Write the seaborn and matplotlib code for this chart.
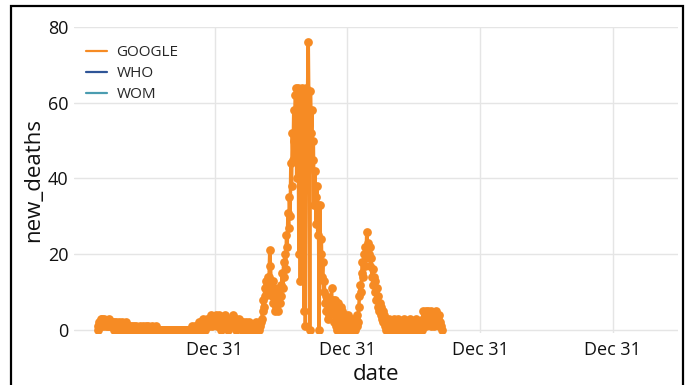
import numpy as np
import pandas as pd
import matplotlib
matplotlib.use("Agg")
import matplotlib.pyplot as plt
import matplotlib.dates as mdates
from matplotlib.lines import Line2D
from matplotlib.patches import Rectangle
import seaborn as sns

# Reported daily deaths, sampled every second day, one list per calendar year
google_2020_start = "2020-02-12"
google_2020 = [0, 1, 2, 1, 3, 2, 3, 2, 1, 3, 2, 1, 2, 2, 1, 3, 1, 2, 1, 2,
               2, 1, 0, 2, 1, 1, 2, 0, 1, 2, 1, 0, 1, 2, 1, 0, 1, 1, 0, 2,
               1, 0, 1, 0, 1, 0,
               0, 1, 0, 0, 1, 0, 0, 1, 0, 0,
               0, 0, 1, 0, 0, 0, 1, 0, 0, 0,
               1, 0, 0, 0, 1, 0, 0, 0, 0, 1,
               0, 0, 0, 0, 0, 1, 0, 0, 0, 0,
               0, 0, 0, 0, 0, 0, 0, 0, 0, 0,
               0, 0, 0, 0, 0, 0, 0, 0, 0, 0,
               0, 0, 0, 0, 0, 0, 0, 0, 0, 0,
               0, 0, 0, 0, 0, 0, 0, 0, 0, 0,
               0, 0, 0, 0, 1, 0, 0, 0, 1, 0,
               0, 1, 0, 1, 2, 1, 0, 2, 1, 3, 1, 2, 0, 2, 3, 1, 2, 3, 1, 2,
               4, 2, 1, 3, 2, 3]

google_2021_start = "2021-01-01"
google_2021 = [2, 4, 1, 3, 2, 4, 1, 3, 0, 2, 3, 1, 2, 4, 2, 1, 3, 2, 0, 2,
               1, 3, 1, 2, 4, 3, 1, 2, 0, 3, 2, 1, 3, 2, 1,
               2, 1, 0, 2, 1, 1, 0, 2, 1, 0, 1, 0, 2, 1, 0, 1, 0, 1,
               0, 1, 0, 2, 1, 0, 1, 0, 2, 1, 2, 3,
               5, 8, 6, 11, 9, 13, 12, 14, 10, 14, 21,
               17, 12, 9, 13, 7, 11, 5, 9, 6, 10, 5, 8, 11, 7,
               12, 9, 15, 11, 18, 14, 20, 16, 25, 22, 31, 27, 35, 30, 44, 38,
               52, 45, 58, 50, 62,
               64, 40, 58, 64, 20, 63, 13, 55, 64, 30, 60, 5, 62, 1, 64, 45,
               63, 76, 55, 0, 63, 52, 58,
               45, 50, 33, 42, 35, 28, 38, 25, 33, 0, 33, 20, 24, 14, 18,
               10, 13, 7, 9, 5, 8, 3, 6, 4, 7, 5, 11, 6, 8,
               6, 2, 8, 1, 5, 0, 7, 3, 4, 0, 6, 2, 5, 1, 3, 0, 4, 2, 3, 0]

google_2022_start = "2022-01-01"
google_2022 = [4, 1, 3, 0, 2, 1, 3, 0, 2, 1, 0, 3, 1, 4, 2,
               6, 9, 12, 10, 15, 18, 14, 20, 17, 22, 19, 26, 21, 23, 20, 22,
               17, 19,
               14, 16, 12, 14, 10, 13, 8, 11, 6, 9, 5, 7, 4, 6, 3, 5, 2, 4,
               1, 3,
               0, 2, 1, 3, 0, 2, 1, 0, 2, 1, 3, 0, 1, 2, 0, 1, 3, 1, 0, 2,
               1, 0, 2, 1, 3, 0, 1, 2, 0, 1, 2, 1, 0, 3, 1, 0, 2, 1, 0, 2,
               1, 3, 0, 1, 2, 0, 1, 2, 1, 0,
               3, 5, 2, 4, 5, 1, 4, 3, 5, 2, 4, 1, 5, 3, 2, 4, 1, 3, 5, 2,
               4, 3, 1, 4, 2, 1, 0]

sources = ["GOOGLE", "WHO", "WOM"]
source_colors = ["#f68b24", "#2f5597", "#4a9cb0"]
y_ticks = [0, 20, 40, 60, 80]
x_tick_dates = ["2020-12-31", "2021-12-31", "2022-12-31", "2023-12-31"]
x_limits = ["2019-12-09", "2024-06-28"]

frames = []
for start, vals in [(google_2020_start, google_2020),
                    (google_2021_start, google_2021),
                    (google_2022_start, google_2022)]:
    frames.append(pd.DataFrame({
        "date": pd.date_range(start, periods=len(vals), freq="2D"),
        "new_deaths": vals,
        "source": "GOOGLE",
    }))
df = pd.concat(frames, ignore_index=True)

sns.set_theme(style="white")
plt.rcParams["font.family"] = ["Open Sans", "DejaVu Sans"]

fig = plt.figure(figsize=(6.9, 3.85), dpi=100)
ax = fig.add_axes([74 / 690, 1 - 333 / 385, 604 / 690, 306 / 385])

palette = dict(zip(sources, source_colors))
sns.lineplot(data=df, x="date", y="new_deaths", hue="source",
             hue_order=sources, palette=palette, estimator=None,
             marker="o", markersize=6.3, markeredgewidth=0,
             linewidth=2.5, legend=False, ax=ax)

ax.set_xlim(pd.to_datetime(x_limits[0]), pd.to_datetime(x_limits[1]))
ax.set_ylim(-0.8, 80)
ax.set_yticks(y_ticks)
ax.set_xticks(pd.to_datetime(x_tick_dates))
ax.xaxis.set_major_formatter(mdates.DateFormatter("%b %d"))

ax.grid(True, color="#e5e5e5", linewidth=1)
ax.set_axisbelow(True)
for s in ax.spines.values():
    s.set_visible(False)
ax.tick_params(axis="both", length=0, labelsize=13, colors="#111111")
ax.tick_params(axis="x", pad=6)
ax.tick_params(axis="y", pad=4)
ax.set_xlabel("date", fontsize=16, color="#111111", labelpad=3)
ax.set_ylabel("new_deaths", fontsize=16, color="#111111", labelpad=3)

handles = [Line2D([0], [0], color=c, linewidth=1.6) for c in source_colors]
ax.legend(handles, sources, loc="upper left", frameon=False, fontsize=11,
          bbox_to_anchor=(12 / 604, 1 - 18 / 306), borderaxespad=0,
          borderpad=0, handlelength=1.4, handletextpad=0.6,
          labelspacing=0.4)

# Outer black frame
fig.patches.append(Rectangle((11 / 690, -0.05), (683 - 11) / 690,
                             1.05 - 6 / 385, transform=fig.transFigure,
                             fill=False, edgecolor="black", linewidth=1.6))

fig.savefig("out.png", dpi=100)
